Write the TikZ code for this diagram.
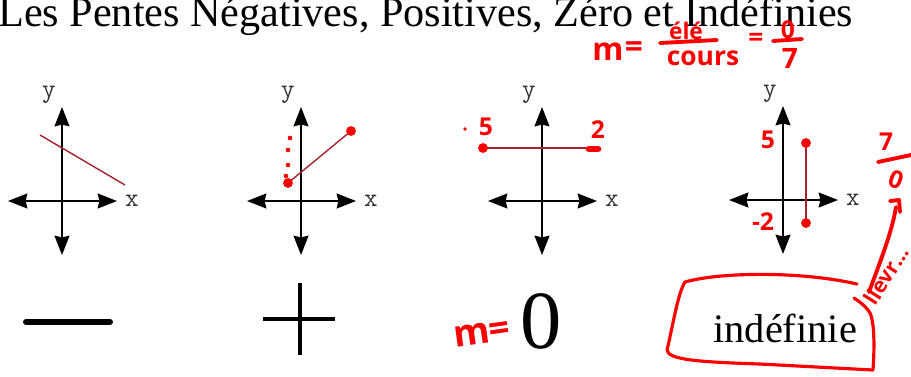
\documentclass[tikz,border=0pt]{standalone}
\usepackage{fontspec}
\setmainfont{Liberation Serif}
\newfontfamily\handfont{Open Sans}
\usetikzlibrary{arrows.meta}
\definecolor{slopered}{RGB}{165,35,45}
\definecolor{ink}{RGB}{250,0,0}
\tikzset{
  axis/.style={line width=1.1pt, {Stealth[length=11pt,width=8.5pt,inset=1pt]}-{Stealth[length=11pt,width=8.5pt,inset=1pt]}},
  axislabel/.style={inner sep=0, font=\ttfamily\fontsize{15}{15}\selectfont, text=black!80},
  slope/.style={slopered, line width=0.8pt},
  inkline/.style={ink, line width=2.2pt, line cap=round, line join=round},
  hand/.style={inner sep=0, text=ink, font=\handfont\bfseries\fontsize{#1}{#1}\selectfont},
  hand/.default=14,
}
\begin{document}
\begin{tikzpicture}[x=0.02cm,y=-0.02cm]
\useasboundingbox (0,0) rectangle (911,376);
\node (title) at (-2,26) [anchor=base west, inner sep=0, font=\fontsize{24}{28}\selectfont] {Les Pentes Négatives, Positives, Zéro et Indéfinies};

% the four sets of axes
\foreach \ox/\oy/\g in {62/201/a, 301/201/b, 542/201/c, 783/200/d}{
  \draw [axis] (\ox-54,\oy) -- (\ox+55,\oy);
  \draw [axis] (\ox,\oy+54) -- (\ox,\oy-94);
  \node (x\g) at (\ox+70,\oy) [axislabel] {x};
  \node (y\g) at (\ox-13,\oy-106) [axislabel] {y};
}

% the lines
\draw [slope] (40,135) -- (125,185);
\draw [slope] (288,183) -- (351,131);
\draw [slope] (483,148) -- (597,148);
\draw [slope] (806,143) -- (806,223);

% red ink on the graphs
\fill [ink] (288,183) circle (2.8pt) (351,131) circle (2.8pt);
\foreach \px/\py in {290/138, 288/150, 288/165, 286/176}
  \fill [ink] (\px,\py) circle (1.3pt);
\fill [ink] (483,148) circle (2.8pt) (465,129) circle (1.1pt);
\draw [ink, line width=3.8pt, line cap=round] (589,149) -- (598,149);
\node (five) at (486,127) [hand] {5};
\node (two) at (598,130) [hand] {2};
\fill [ink] (806,143) circle (2.8pt) (806,223) circle (2.8pt);
\node (top) at (768,140) [hand] {5};
\node (bot) at (763,222) [hand] {-2};

% signs under the graphs
\draw [line width=3.4pt, line cap=round] (26,322) -- (110,322);
\draw [line width=2.8pt] (300,283) -- (300,355) (263,319) -- (335,319);
\node (zero) at (541,348) [anchor=base, inner sep=0, font=\fontsize{47}{47}\selectfont] {0};
\node (undef) at (713,342) [anchor=base west, inner sep=0, font=\fontsize{23}{23}\selectfont] {indéfinie};

% handwriting
\node (mz) at (482,333) [hand=21, rotate=8] {m=};
\node (m) at (608,52) [hand=18] {m};
\node (eq) at (634,50) [hand=18] {=};
\node (num) at (686,31) [hand=13] {élé};
\draw [inkline] (660,43) -- (717,40);
\node (den) at (703,58) [hand=15] {cours};
\node (eq2) at (756,40) [hand=15] {=};
\node (nz) at (788,30) [hand=14] {0};
\draw [inkline] (773,41) -- (802,39);
\node (ns) at (790,58) [hand=16] {7};
\node (rs) at (886,142) [hand=14] {7};
\draw [inkline] (878,162) -- (911,155);
\node (rz) at (896,180) [hand=14, rotate=-20] {0};
\draw [inkline] (869,292) .. controls (880,262) and (892,232) .. (896,207);
\draw [inkline] (890,201) -- (899,200) -- (900,212);
\node (note) at (886,275) [hand=12, rotate=58] {llevr\dots};
\draw [inkline, line width=1.8pt] (857,284) .. controls (800,271) and (720,272) .. (685,282)
  .. controls (678,292) and (672,330) .. (667,350) .. controls (668,360) and (700,362) .. (760,364)
  -- (873,370) .. controls (875,340) and (874,316) .. (868,310) .. controls (864,305) and (860,302) .. (854,298);
\end{tikzpicture}
\end{document}
